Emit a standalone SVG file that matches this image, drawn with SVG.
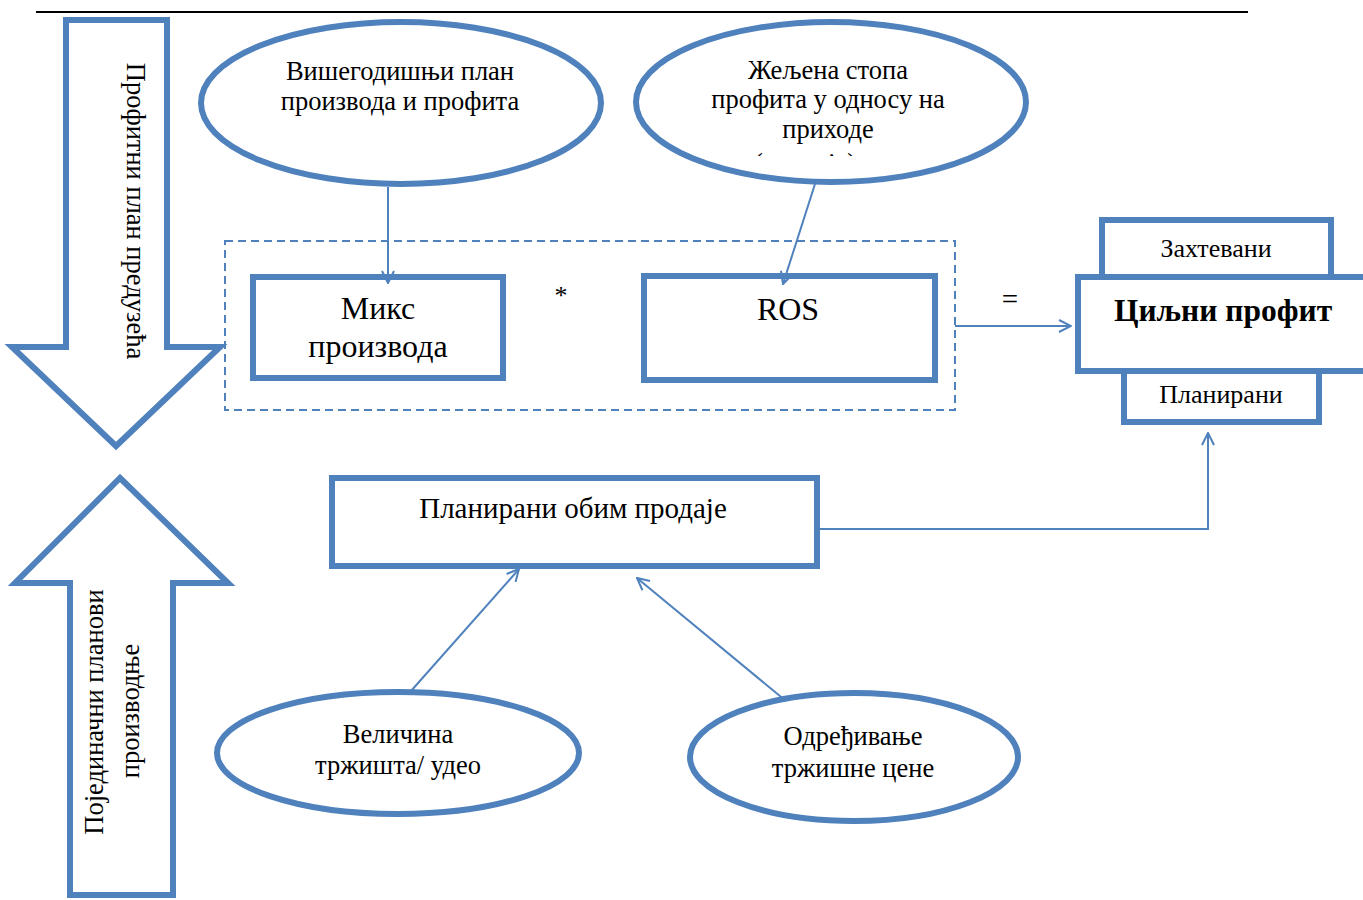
<svg xmlns="http://www.w3.org/2000/svg" width="1363" height="900" viewBox="0 0 1363 900">
<defs>
<style>
.shape{fill:#fff;stroke:#4F81BD;stroke-width:6}
.con{fill:none;stroke:#4F81BD;stroke-width:2}
.t{font-family:"Liberation Serif","Times New Roman",serif;fill:#000;text-anchor:middle}
.e{font-size:26.5px}
</style>
<marker id="ah" viewBox="0 0 14 14" refX="13" refY="7" markerWidth="14" markerHeight="14" markerUnits="userSpaceOnUse" orient="auto">
<path d="M1,1 L13,7 L1,13" fill="none" stroke="#4F81BD" stroke-width="2"/>
</marker>
<clipPath id="clipfrag"><rect x="700" y="148" width="260" height="8"/></clipPath>
</defs>
<rect width="1363" height="900" fill="#fff"/>
<line x1="36" y1="12" x2="1248" y2="12" stroke="#000" stroke-width="2"/>

<g id="arrow-down">
<path class="shape" d="M66,20 L167,20 L167,347 L220,347 L116,446 L12,347 L66,347 Z"/>
<text class="t e" transform="translate(127,211) rotate(90)">Профитни план предузећа</text>
</g>

<g id="arrow-up">
<path class="shape" d="M120,478 L228,583 L173,583 L173,895 L70,895 L70,583 L15,583 Z"/>
<text class="t e" transform="translate(103,712) rotate(-90)">Појединачни планови</text>
<text class="t e" transform="translate(139,711) rotate(-90)">производње</text>
</g>

<g id="ellipse-plan">
<ellipse class="shape" cx="401" cy="103" rx="200" ry="81"/>
<text class="t e" x="400" y="80">Вишегодишњи план</text>
<text class="t e" x="400" y="110">производа и профита</text>
</g>

<g id="ellipse-ros">
<ellipse class="shape" cx="831" cy="102" rx="195" ry="80"/>
<text class="t e" x="828" y="79">Жељена стопа</text>
<text class="t e" x="828" y="108">профита у односу на</text>
<text class="t e" x="828" y="138">приходе</text>
<text class="t e" x="805" y="172" clip-path="url(#clipfrag)">(продаја)</text>
</g>

<g id="dashed-group">
<rect x="225" y="241" width="730" height="169" fill="none" stroke="#4F81BD" stroke-width="2" stroke-dasharray="8,5"/>
</g>

<g id="mix">
<rect class="shape" x="253" y="277" width="250" height="101"/>
<text class="t" font-size="32" x="378" y="319">Микс</text>
<text class="t" font-size="32" x="378" y="357">производа</text>
</g>

<g id="op-mult"><text class="t" font-size="26" x="561" y="304">*</text></g>

<g id="ros">
<rect class="shape" x="644" y="276" width="291" height="104"/>
<text class="t" font-size="32" x="788" y="320">ROS</text>
</g>

<g id="op-eq"><text class="t" font-size="29" x="1010" y="309">=</text></g>

<g id="target">
<rect class="shape" x="1102" y="220" width="229" height="62"/>
<rect class="shape" x="1124" y="366" width="195" height="56"/>
<rect class="shape" x="1078" y="277" width="300" height="94"/>
<text class="t" font-size="26" x="1216" y="257">Захтевани</text>
<text class="t" font-size="31.5" font-weight="bold" x="1223" y="321">Циљни профит</text>
<text class="t" font-size="26" x="1221" y="403">Планирани</text>
</g>

<g id="sales">
<rect class="shape" x="332" y="478" width="485" height="88"/>
<text class="t" font-size="29" x="573" y="518">Планирани обим продаје</text>
</g>

<g id="ellipse-market">
<ellipse class="shape" cx="398" cy="753" rx="181" ry="61"/>
<text class="t e" x="398" y="743">Величина</text>
<text class="t e" x="398" y="774">тржишта/ удео</text>
</g>

<g id="ellipse-price">
<ellipse class="shape" cx="854" cy="757" rx="164" ry="64"/>
<text class="t e" x="853" y="745">Одређивање</text>
<text class="t e" x="853" y="777">тржишне цене</text>
</g>

<g id="connectors">
<line class="con" x1="388" y1="187" x2="388" y2="283" marker-end="url(#ah)"/>
<line class="con" x1="815" y1="184" x2="783" y2="284" marker-end="url(#ah)"/>
<line class="con" x1="955" y1="326" x2="1071" y2="326" marker-end="url(#ah)"/>
<polyline class="con" points="818,529 1208,529 1208,433" marker-end="url(#ah)"/>
<line class="con" x1="411" y1="691" x2="519" y2="569" marker-end="url(#ah)"/>
<line class="con" x1="786" y1="701" x2="637" y2="578" marker-end="url(#ah)"/>
</g>
</svg>
